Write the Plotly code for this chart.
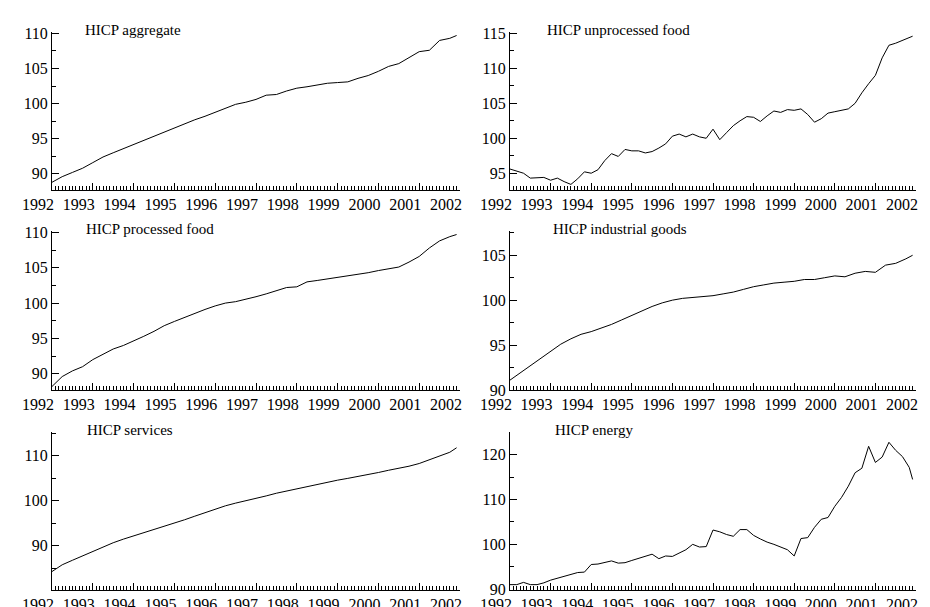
import plotly.graph_objects as go

# quarterly dates (Jan, Apr, Jul, Oct) 1992-2001 plus Dec 2001
quarter_x = [y + q / 4 for y in range(1992, 2002) for q in range(4)] + [2001 + 11 / 12]
# bimonthly dates (Jan, Mar, May, Jul, Sep, Nov) plus Dec 2001
bimonth_x = [y + m / 12 for y in range(1992, 2002) for m in (0, 2, 4, 6, 8, 10)] + [2001 + 11 / 12]

aggregate = [88.8, 89.6, 90.2, 90.8, 91.6, 92.4, 93.0, 93.6, 94.2, 94.8, 95.4, 96.0,
             96.5, 97.1, 97.7, 98.2, 98.8, 99.4, 99.9, 100.2, 100.6, 101.2, 101.3, 101.8,
             102.2, 102.4, 102.7, 102.9, 103.0, 103.1, 103.6, 104.0, 104.6, 105.3, 105.7, 106.6,
             107.4, 107.6, 109.0, 109.3, 109.7]
processed = [88.2, 89.6, 90.4, 91.0, 92.0, 92.8, 93.5, 94.0, 94.6, 95.3, 96.0, 96.8,
             97.4, 98.0, 98.6, 99.1, 99.6, 100.0, 100.2, 100.5, 100.9, 101.3, 101.8, 102.2,
             102.3, 103.0, 103.2, 103.4, 103.6, 103.8, 104.0, 104.3, 104.6, 104.8, 105.1, 105.8,
             106.6, 107.8, 108.8, 109.4, 109.7]
services = [84.3, 85.8, 86.8, 87.8, 88.8, 89.8, 90.7, 91.5, 92.2, 92.9, 93.6, 94.3,
            95.0, 95.8, 96.6, 97.4, 98.2, 98.9, 99.5, 100.0, 100.5, 101.1, 101.7, 102.2,
            102.7, 103.2, 103.7, 104.2, 104.6, 105.0, 105.4, 105.8, 106.3, 106.8, 107.2, 107.7,
            108.3, 109.1, 109.9, 110.8, 111.8]
industrial = [91.1, 91.9, 92.7, 93.5, 94.3, 95.1, 95.7, 96.2, 96.5, 96.9, 97.3, 97.8,
              98.3, 98.8, 99.3, 99.7, 100.0, 100.2, 100.3, 100.4, 100.5, 100.7, 100.9, 101.2,
              101.5, 101.7, 101.9, 102.0, 102.1, 102.3, 102.3, 102.5, 102.7, 102.6, 103.0, 103.2,
              103.1, 103.9, 104.1, 104.6, 105.0]
unprocessed = [95.6, 95.3, 95.0, 94.3, 94.3, 94.4, 94.0, 94.3, 93.8, 93.4, 94.2, 95.2,
               95.0, 95.5, 96.8, 97.8, 97.4, 98.4, 98.2, 98.2, 97.9, 98.1, 98.6, 99.2,
               100.3, 100.6, 100.2, 100.6, 100.2, 100.0, 101.3, 99.8, 100.8, 101.8, 102.5, 103.1,
               103.0, 102.4, 103.2, 103.9, 103.7, 104.1, 104.0, 104.2, 103.4, 102.3, 102.8, 103.6,
               103.8, 104.0, 104.2, 105.0, 106.5, 107.8, 109.0, 111.5, 113.3, 113.6, 114.0, 114.4,
               114.6]
energy = [91.0, 91.0, 91.5, 91.0, 91.0, 91.4, 92.0, 92.4, 92.9, 93.2, 93.7, 93.8,
          95.5, 95.6, 96.0, 96.3, 95.8, 95.9, 96.4, 96.9, 97.3, 97.8, 96.8, 97.4,
          97.3, 98.0, 98.8, 100.0, 99.4, 99.5, 103.2, 102.8, 102.2, 101.8, 103.3, 103.3,
          102.0, 101.2, 100.5, 100.0, 99.4, 98.8, 97.4, 101.3, 101.5, 103.8, 105.6, 106.0,
          108.5, 110.5, 113.0, 116.0, 117.0, 121.9, 118.3, 119.5, 122.8, 121.0, 119.6, 117.2,
          114.5]

panels = [
    ("HICP aggregate", quarter_x, aggregate, [87.7, 110.2], 5, 0.076),
    ("HICP unprocessed food", bimonth_x, unprocessed, [92.6, 115.2], 5, 0.086),
    ("HICP processed food", quarter_x, processed, [87.7, 110.2], 5, 0.078),
    ("HICP industrial goods", quarter_x, industrial, [90.0, 107.7], 5, 0.1),
    ("HICP services", quarter_x, services, [80.2, 115.3], 10, 0.08),
    ("HICP energy", bimonth_x, energy, [89.8, 125.1], 10, 0.105),
]

W, H = 930, 607
xdoms = [[44 / W, 452 / W], [502 / W, 908 / W]]
ydoms = [[1 - 182 / H, 1 - 24 / H], [1 - 382 / H, 1 - 223 / H], [1 - 582 / H, 1 - 424 / H]]

serif = "Liberation Serif, Times New Roman, DejaVu Serif, serif"
font = dict(family=serif, size=16, color="black")
fig = go.Figure()
layout = dict(width=W, height=H, margin=dict(l=0, r=0, t=0, b=0, autoexpand=False),
              paper_bgcolor="white", plot_bgcolor="white", showlegend=False, font=font)
annotations = []

for i, (name, xs, ys, yr, dt, tx) in enumerate(panels):
    sfx = "" if i == 0 else str(i + 1)
    osfx = str(i + 7)  # overlay axis carrying the monthly ticks
    fig.add_trace(go.Scatter(x=xs, y=ys, mode="lines", line=dict(color="black", width=1),
                             xaxis="x" + sfx, yaxis="y" + sfx))
    row, col = divmod(i, 2)
    layout["xaxis" + sfx] = dict(
        domain=xdoms[col], anchor="y" + sfx, range=[1992, 2002], autorange=False,
        showgrid=False, zeroline=False, showline=True, linecolor="black", linewidth=1,
        tickmode="linear", tick0=1992, dtick=1, ticks="inside", ticklen=7, tickwidth=1.3,
        tickcolor="black", ticklabelshift=-14, automargin=False)
    layout["xaxis" + osfx] = dict(
        domain=xdoms[col], anchor="y" + sfx, overlaying="x" + sfx, range=[1992, 2002],
        autorange=False, showgrid=False, zeroline=False, showline=False,
        tickmode="linear", tick0=1992, dtick=1 / 12, ticks="inside", ticklen=4, tickwidth=1,
        tickcolor="black", showticklabels=False, automargin=False)
    layout["yaxis" + sfx] = dict(
        domain=ydoms[row], anchor="x" + sfx, range=yr, autorange=False, showgrid=False,
        zeroline=False, showline=True, linecolor="black", linewidth=1,
        tickmode="linear", tick0=0, dtick=dt, ticks="inside", ticklen=7, tickwidth=1.3,
        tickcolor="black", automargin=False,
        minor=dict(dtick=dt / 2, ticks="inside", ticklen=4, tickcolor="black"))
    annotations.append(dict(x=tx, xref="x" + sfx + " domain",
                            y=1, yref="y" + sfx + " domain", xanchor="left", yanchor="middle",
                            yshift=2, text=name, showarrow=False,
                            font=dict(family=serif, size=15, color="black")))

# empty traces so the overlay axes get drawn
for i in range(6):
    sfx = "" if i == 0 else str(i + 1)
    fig.add_trace(go.Scatter(x=[], y=[], xaxis="x" + str(i + 7), yaxis="y" + sfx,
                             hoverinfo="skip"))

layout["annotations"] = annotations
fig.update_layout(**layout)
fig.write_html("out.html")
